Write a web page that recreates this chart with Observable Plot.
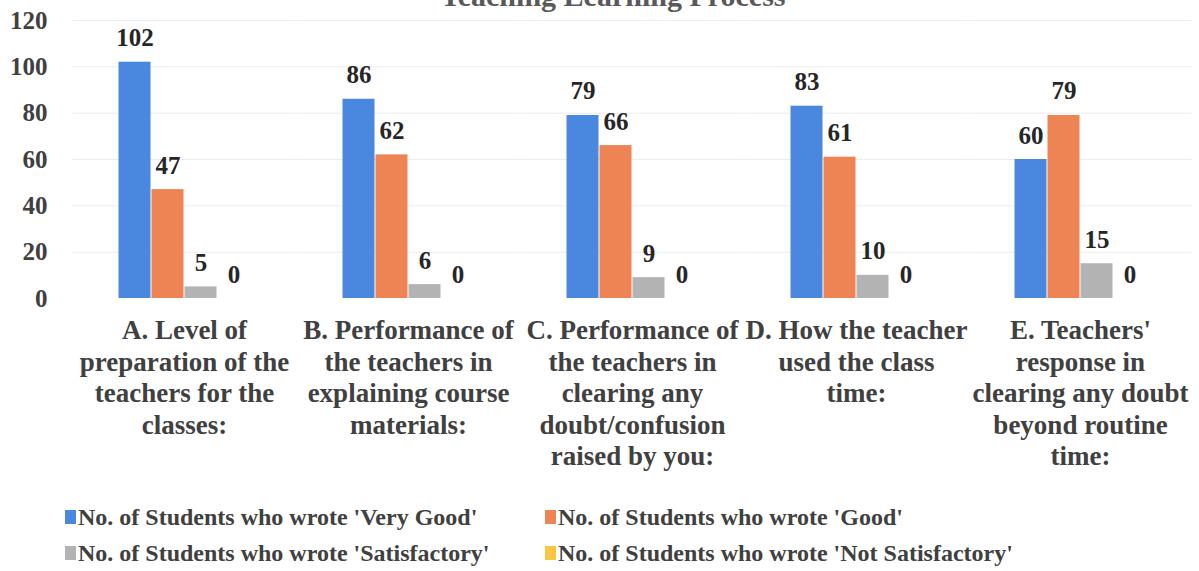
<!DOCTYPE html>
<html>
<head>
<meta charset="utf-8">
<script src="https://cdn.jsdelivr.net/npm/d3@7"></script>
<script src="https://cdn.jsdelivr.net/npm/@observablehq/plot@0.6"></script>
<style>
  html, body { margin: 0; padding: 0; background: #fff; overflow: hidden; }
  #wrap { position: relative; width: 1199px; height: 571px; font-family: "Liberation Serif", "Times New Roman", serif; }
  #title { position: absolute; top: -19px; left: 0; width: 1226px; text-align: center; font-weight: bold; font-size: 30px; line-height: 30px; color: #595959; white-space: nowrap; }
  #chart { position: absolute; top: 0; left: 0; }
  #legend { position: absolute; top: 503px; left: 65px; display: grid; grid-template-columns: 480px auto; row-gap: 8px; font-weight: bold; font-size: 24px; line-height: 28px; color: #404040; }
  .item { display: flex; align-items: center; white-space: nowrap; }
  .sw { display: inline-block; width: 11px; height: 14px; margin-right: 2px; }
</style>
</head>
<body>
<div id="wrap">
  <div id="chart"></div>
  <div id="title"></div>
  <div id="legend"></div>
</div>
<script>
const titleText = "Teaching Learning Process";

const categories = [
  "A. Level of\npreparation of the\nteachers for the\nclasses:",
  "B. Performance of\nthe teachers in\nexplaining course\nmaterials:",
  "C. Performance of\nthe teachers in\nclearing any\ndoubt/confusion\nraised by you:",
  "D. How the teacher\nused the class\ntime:",
  "E. Teachers'\nresponse in\nclearing any doubt\nbeyond routine\ntime:"
];

const series = [
  "No. of Students who wrote 'Very Good'",
  "No. of Students who wrote 'Good'",
  "No. of Students who wrote 'Satisfactory'",
  "No. of Students who wrote 'Not Satisfactory'"
];

const veryGood = [102, 86, 79, 83, 60];
const good = [47, 62, 66, 61, 79];
const satisfactory = [5, 6, 9, 10, 15];
const notSatisfactory = [0, 0, 0, 0, 0];

const yTicks = [0, 20, 40, 60, 80, 100, 120];
const colors = ["#4a87df", "#ee8454", "#b3b3b3", "#f7c644"];

const seriesValues = [veryGood, good, satisfactory, notSatisfactory];
const data = categories.flatMap((c, i) =>
  series.map((s, j) => ({category: c, series: s, value: seriesValues[j][i]}))
);

document.getElementById("title").textContent = titleText;

const chart = Plot.plot({
  width: 1199,
  height: 480,
  marginLeft: 72,
  marginRight: 7,
  marginTop: 20,
  marginBottom: 182,
  style: {fontFamily: '"Liberation Serif", "Times New Roman", serif', background: "transparent", overflow: "visible"},
  fx: {domain: categories, paddingInner: 0.4, paddingOuter: 0.2, label: null},
  x: {domain: series, padding: 0, axis: null},
  y: {domain: [0, 120], label: null},
  color: {domain: series, range: colors},
  marks: [
    Plot.ruleY(yTicks.slice(1), {stroke: "#ececec", insetLeft: -44.8, insetRight: -44.8}),
    Plot.barY(data, {fx: "category", x: "series", y: "value", fill: "series", insetLeft: 0.5, insetRight: 0.5}),
    Plot.text(data, {fx: "category", x: "series", y: "value", text: d => String(d.value), dy: -16, lineAnchor: "bottom", fontSize: 25, fontWeight: "bold", fill: "#262626"}),
    Plot.axisY(yTicks, {tickSize: 0, tickPadding: 70, fontSize: 25, fontWeight: "bold", fill: "#404040", label: null}),
    Plot.axisFx({anchor: "bottom", tickSize: 0, tickPadding: 18, fontSize: 27, fontWeight: "bold", lineHeight: 1.17, fill: "#404040", label: null})
  ]
});
document.getElementById("chart").appendChild(chart);

const legend = document.getElementById("legend");
series.forEach((s, i) => {
  const item = document.createElement("div");
  item.className = "item";
  const sw = document.createElement("span");
  sw.className = "sw";
  sw.style.background = colors[i];
  const t = document.createElement("span");
  t.textContent = s;
  item.appendChild(sw);
  item.appendChild(t);
  legend.appendChild(item);
});
</script>
</body>
</html>
